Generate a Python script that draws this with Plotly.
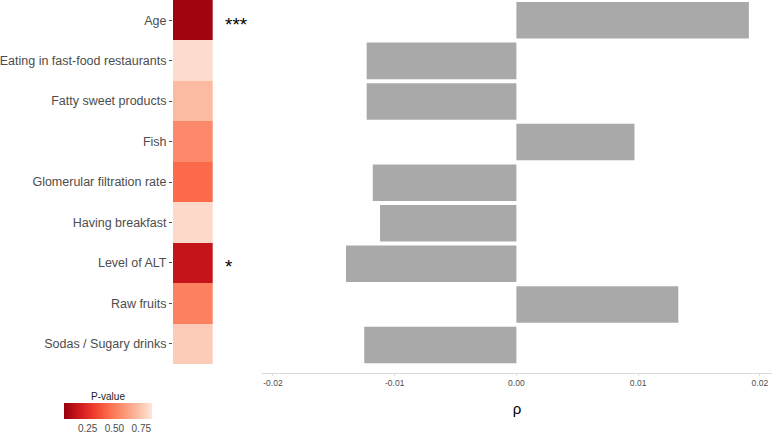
import plotly.graph_objects as go

# variables, top to bottom
variables = [
    "Age",
    "Eating in fast-food restaurants",
    "Fatty sweet products",
    "Fish",
    "Glomerular filtration rate",
    "Having breakfast",
    "Level of ALT",
    "Raw fruits",
    "Sodas / Sugary drinks",
]
p_values = [0.055, 0.82, 0.71, 0.55, 0.44, 0.81, 0.15, 0.52, 0.77]
rho = [0.0191, -0.0123, -0.0123, 0.0097, -0.0118, -0.0112, -0.0140, 0.0133, -0.0125]
stars = ["***", "", "", "", "", "", "*", "", ""]

W, H = 778, 433

reds = [
    [0.0, "#99000d"], [1 / 6, "#cb181d"], [2 / 6, "#ef3b2c"], [3 / 6, "#fb6a4a"],
    [4 / 6, "#fc9272"], [5 / 6, "#fcbba1"], [1.0, "#fee5d9"],
]

fig = go.Figure()

# p-value tile column
fig.add_trace(go.Heatmap(
    z=[[p] for p in p_values], x=["p"], y=variables,
    colorscale=reds, zmin=0.03, zmax=0.85, xaxis="x", yaxis="y",
    colorbar=dict(
        orientation="h", x=108 / W, xanchor="center", y=1 - 411 / H, yanchor="middle",
        len=108 / W, lenmode="fraction", thickness=16, outlinewidth=0,
        tickvals=[0.25, 0.5, 0.75], ticktext=["0.25", "0.50", "0.75"],
        ticks="", tickfont=dict(size=10, color="#4d4d4d"),
        title=dict(text="P-value", side="top", font=dict(size=10, color="#1a1a1a")),
    ),
    hovertemplate="%{y}: p=%{z}<extra></extra>",
))

# correlation bars
fig.add_trace(go.Bar(
    x=rho, y=variables, orientation="h", xaxis="x2", yaxis="y2",
    marker=dict(color="#a9a9a9", line=dict(width=0)), width=0.9,
    showlegend=False,
))

# significance stars
for v, s in zip(variables, stars):
    if s:
        fig.add_annotation(
            x=223 / W, xref="paper", xanchor="left", y=v, yref="y", yshift=-4,
            text=s, showarrow=False, font=dict(size=19, color="black"),
        )

fig.update_layout(
    width=W, height=H,
    margin=dict(l=0, r=0, t=0, b=0, autoexpand=False),
    paper_bgcolor="white", plot_bgcolor="white",
    font=dict(family="Liberation Sans, Arial, sans-serif"),
    xaxis=dict(domain=[173 / W, 212.7 / W], showticklabels=False, showgrid=False,
               zeroline=False, ticks=""),
    yaxis=dict(domain=[1 - 364 / H, 1], range=[8.5, -0.5], type="category",
               showgrid=False, zeroline=False, ticks="outside", ticklen=3,
               tickcolor="#4d4d4d", tickwidth=0.6,
               tickfont=dict(size=12.5, color="#4d4d4d"), automargin=False),
    xaxis2=dict(domain=[262 / W, 772 / W], range=[-0.0209, 0.021], anchor="y2",
                tickvals=[-0.02, -0.01, 0, 0.01, 0.02],
                ticktext=["-0.02", "-0.01", "0.00", "0.01", "0.02"],
                tickfont=dict(size=8.5, color="#4d4d4d"), ticks="outside", ticklen=2,
                tickcolor="#e0e0e0", showline=True, linecolor="#d9d9d9", linewidth=1,
                showgrid=False, zeroline=False, automargin=False,
                title=dict(text="ρ", font=dict(size=15, color="black"), standoff=16)),
    yaxis2=dict(domain=[1 - 373 / H, 1], range=[8.69, -0.5], type="category",
                anchor="x2", showticklabels=False, showgrid=False, zeroline=False,
                ticks=""),
)

# drop the default page margin so the figure sits at the window origin
fig.write_html("out.html", config={"displayModeBar": False},
               post_script="document.body.style.margin='0px';")
